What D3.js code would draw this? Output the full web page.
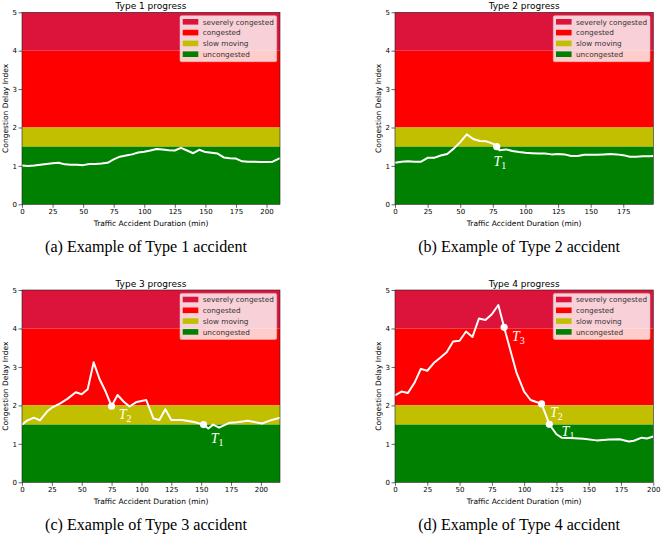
<!DOCTYPE html>
<html><head><meta charset="utf-8">
<script src="https://cdn.jsdelivr.net/npm/d3@7"></script>
<style>body{margin:0;background:#fff}svg{display:block}</style>
</head><body>
<svg id="c" width="661" height="536"></svg>
<script>
// ---- data ----
const bandNames = ["severely congested","congested","slow moving","uncongested"];
const bandColors = ["#dc143c","#ff0000","#c2bf00","#008000"];
const bandRanges = [[4,5],[2,4],[1.5,2],[0,1.5]];
const yTicks = [0,1,2,3,4,5];

const type1X = [0,5,10,15,20,25,30,35,40,45,50,55,60,65,70,75,80,85,90,95,100,105,110,115,120,125,130,135,140,145,150,155,160,165,170,175,180,185,190,195,200,205,211];
const type1Y = [1.01,1.00,1.01,1.03,1.05,1.07,1.08,1.04,1.03,1.03,1.02,1.05,1.05,1.06,1.08,1.17,1.24,1.27,1.30,1.35,1.37,1.40,1.44,1.43,1.41,1.40,1.47,1.40,1.33,1.42,1.36,1.34,1.32,1.22,1.20,1.19,1.12,1.11,1.11,1.10,1.10,1.11,1.20];

const type2X = [0,5,10,15,20,25,30,35,40,45,50,55,60,65,70,75,78,80,85,90,95,100,105,110,115,120,125,130,135,140,145,150,155,160,165,170,175,180,185,190,195,198];
const type2Y = [1.08,1.11,1.12,1.11,1.11,1.21,1.21,1.27,1.31,1.45,1.62,1.82,1.70,1.65,1.64,1.58,1.50,1.41,1.43,1.39,1.36,1.34,1.33,1.32,1.32,1.30,1.31,1.30,1.26,1.26,1.29,1.29,1.29,1.30,1.31,1.30,1.28,1.24,1.24,1.25,1.25,1.26];

const type3X = [0,4,10,15,21,25,32,38,45,50,55,60,65,70,75,80,85,90,96,104,110,115,120,125,134,144,152,156,160,165,174,180,189,201,208,216];
const type3Y = [1.50,1.60,1.68,1.61,1.84,1.94,2.05,2.17,2.34,2.29,2.42,3.12,2.68,2.36,1.98,2.27,2.10,1.97,2.09,2.14,1.66,1.62,1.90,1.62,1.62,1.57,1.50,1.40,1.50,1.42,1.55,1.56,1.60,1.53,1.61,1.68];

const type4X = [0,5,10,15,20,25,30,35,40,45,50,55,60,65,70,75,80,84.5,89,94,100,105,110,113.5,119.5,125,129,136,146,156,166,174,181,185,191,195,200];
const type4Y = [2.26,2.36,2.32,2.58,2.95,2.90,3.10,3.24,3.38,3.66,3.68,3.92,3.78,4.26,4.22,4.37,4.61,4.03,3.47,2.86,2.36,2.14,2.08,2.04,1.51,1.25,1.16,1.15,1.13,1.09,1.11,1.12,1.06,1.08,1.16,1.14,1.19];

// markers: [x, y, label-sub, labelX, labelY]
const type2Marks = [[78,1.50,"1",75.5,1.0]];
const type3Marks = [[75,1.98,"2",81,1.64],[152,1.50,"1",158,1.03]];
const type4Marks = [[84.5,4.03,"3",90.5,3.68],[113.5,2.04,"2",120,1.70],[119.5,1.51,"1",129,1.21]];

const titles = ["Type 1 progress","Type 2 progress","Type 3 progress","Type 4 progress"];
const captions = ["(a) Example of Type 1 accident","(b) Example of Type 2 accident","(c) Example of Type 3 accident","(d) Example of Type 4 accident"];
const xMaxes = [211,198,216,200];
const xTickSets = [[0,25,50,75,100,125,150,175,200],[0,25,50,75,100,125,150,175],[0,25,50,75,100,125,150,175,200],[0,25,50,75,100,125,150,175,200]];
const xLabel = "Traffic Accident Duration (min)";
const yLabel = "Congestion Delay Index";

// ---- layout ----
const svg = d3.select("#c");
const panels = [
  {x0:22, x1:280, y0:12.3, y1:204.3, X:type1X, Y:type1Y, M:[]},
  {x0:395, x1:653.3, y0:12.3, y1:204.3, X:type2X, Y:type2Y, M:type2Marks},
  {x0:22, x1:280, y0:290, y1:482.3, X:type3X, Y:type3Y, M:type3Marks},
  {x0:395, x1:653.3, y0:290, y1:482.3, X:type4X, Y:type4Y, M:type4Marks}
];
const sans = "'DejaVu Sans', sans-serif";

panels.forEach((p,i)=>{
  const x = d3.scaleLinear().domain([0,xMaxes[i]]).range([p.x0,p.x1]);
  const y = d3.scaleLinear().domain([0,5]).range([p.y1,p.y0]);
  const g = svg.append("g");
  // bands
  g.selectAll("rect.band").data(bandRanges).join("rect")
    .attr("x",p.x0).attr("width",p.x1-p.x0)
    .attr("y",d=>y(d[1])).attr("height",d=>y(d[0])-y(d[1]))
    .attr("fill",(d,j)=>bandColors[j]);
  // line
  const pts = p.X.map((v,k)=>[v,p.Y[k]]);
  g.append("path").datum(pts)
    .attr("d",d3.line().x(d=>x(d[0])).y(d=>y(d[1])))
    .attr("fill","none").attr("stroke","#fff").attr("stroke-width",2).attr("stroke-linejoin","round");
  // markers
  p.M.forEach(m=>{
    g.append("circle").attr("cx",x(m[0])).attr("cy",y(m[1])).attr("r",3.6).attr("fill","#fff");
    const t = g.append("text").attr("x",x(m[3])).attr("y",y(m[4]))
      .attr("fill","#fff").attr("font-family","'Liberation Serif', serif").attr("font-style","italic").attr("font-size",14);
    t.append("tspan").text("T");
    t.append("tspan").attr("dy",3).attr("font-size",10).attr("font-style","normal").text(m[2]);
  });
  // frame
  g.append("rect").attr("x",p.x0).attr("y",p.y0).attr("width",p.x1-p.x0).attr("height",p.y1-p.y0)
    .attr("fill","none").attr("stroke","#222").attr("stroke-width",0.6);
  // axes
  const ax = g.append("g").attr("transform",`translate(0,${p.y1})`)
    .call(d3.axisBottom(x).tickValues(xTickSets[i]).tickFormat(d3.format("d")).tickSize(3.5).tickPadding(1.5));
  const ay = g.append("g").attr("transform",`translate(${p.x0},0)`)
    .call(d3.axisLeft(y).tickValues(yTicks).tickFormat(d3.format("d")).tickSize(3.5).tickPadding(1.5));
  [ax,ay].forEach(a=>{
    a.select(".domain").remove();
    a.selectAll("text").attr("font-family",sans).attr("font-size",7).attr("fill","#000");
    a.selectAll("line").attr("stroke","#000").attr("stroke-width",0.6);
  });
  // labels
  g.append("text").attr("x",(p.x0+p.x1)/2).attr("y",p.y1+22).attr("text-anchor","middle")
    .attr("font-family",sans).attr("font-size",7.5).text(xLabel);
  g.append("text").attr("transform",`translate(${p.x0-14},${(p.y0+p.y1)/2}) rotate(-90)`)
    .attr("text-anchor","middle").attr("font-family",sans).attr("font-size",7.5).text(yLabel);
  g.append("text").attr("x",(p.x0+p.x1)/2).attr("y",p.y0-3.5).attr("text-anchor","middle")
    .attr("font-family",sans).attr("font-size",9).text(titles[i]);
  // caption
  const cap = g.append("text").attr("x",(p.x0+p.x1)/2-5).attr("y",p.y1+48).attr("text-anchor","middle")
    .attr("font-family","'Liberation Serif', serif").attr("font-size",14).text(captions[i]);
  const w = cap.node().getComputedTextLength();
  cap.attr("font-size",14*202/w);
  // legend
  const lg = g.append("g").attr("transform",`translate(${p.x1-100},${p.y0+3.4})`);
  lg.append("rect").attr("width",96.7).attr("height",46).attr("fill","#fff").attr("fill-opacity",0.8)
    .attr("stroke","#ccc").attr("stroke-width",0.5).attr("rx",1.5);
  bandNames.forEach((n,j)=>{
    lg.append("rect").attr("x",2.7).attr("y",3.3+j*10.8).attr("width",15.6).attr("height",5.6).attr("fill",bandColors[j]);
    lg.append("text").attr("x",22.7).attr("y",9+j*10.8).attr("font-family",sans).attr("font-size",7.3).attr("fill","#333").text(n);
  });
});
</script>
</body></html>
